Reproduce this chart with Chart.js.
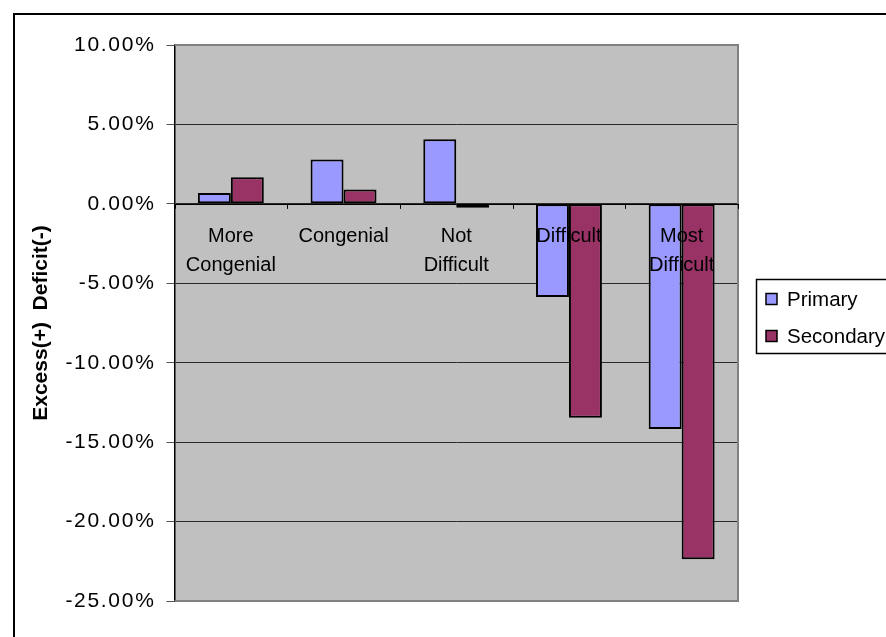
<!DOCTYPE html>
<html>
<head>
<meta charset="utf-8">
<title>Excess / Deficit</title>
<script src="https://cdn.jsdelivr.net/npm/chart.js@4.4.1/dist/chart.umd.min.js"></script>
<style>
  html, body { margin: 0; padding: 0; background: #fff; }
  #wrap { width: 886px; height: 637px; position: relative; }
</style>
</head>
<body>
<div id="wrap"><canvas id="gapChart" width="886" height="637"></canvas></div>
<script>
// categories and series (percent)
const categories = [['More', 'Congenial'], ['Congenial'], ['Not', 'Difficult'], ['Difficult'], ['Most', 'Difficult']];
const primary = [0.68, 2.80, 4.06, -5.87, -14.18];
const secondary = [1.67, 0.91, -0.25, -13.46, -22.37];
const seriesNames = ['Primary', 'Secondary'];
const yMin = -25, yMax = 10, yStep = 5;

const FONT = "'Liberation Sans', Arial, sans-serif";

// grey plot area, outer frame, category labels on the zero line, boxed legend
const excelLook = {
  id: 'excelLook',
  beforeDraw(chart) {
    const ctx = chart.ctx, a = chart.chartArea;
    ctx.save();
    ctx.letterSpacing = '0px';
    ctx.strokeStyle = '#000';
    ctx.lineWidth = 2;
    ctx.strokeRect(14, 14, 1000, 1000);
    ctx.fillStyle = '#c0c0c0';
    ctx.fillRect(a.left, a.top, a.right - a.left, a.bottom - a.top);
    ctx.restore();
    ctx.letterSpacing = '0px';
  },
  beforeDatasetsDraw(chart) {
    const ctx = chart.ctx, a = chart.chartArea;
    ctx.save();
    ctx.strokeStyle = '#808080';
    ctx.lineWidth = 2;
    ctx.beginPath();
    ctx.moveTo(a.left, a.top);
    ctx.lineTo(a.right, a.top);
    ctx.lineTo(a.right, a.bottom);
    ctx.lineTo(a.left, a.bottom);
    ctx.stroke();
    ctx.restore();
  },
  afterDatasetsDraw(chart) {
    const ctx = chart.ctx, a = chart.chartArea;
    const x = chart.scales.x, y = chart.scales.y;
    const zero = y.getPixelForValue(0);
    ctx.save();
    ctx.letterSpacing = '0px';
    // zero axis line and boundary tick marks
    ctx.strokeStyle = '#000';
    ctx.lineWidth = 1;
    ctx.beginPath();
    ctx.moveTo(a.left, Math.round(zero) + 0.5);
    ctx.lineTo(a.right, Math.round(zero) + 0.5);
    const n = chart.data.labels.length;
    for (let i = 0; i <= n; i++) {
      let bx;
      if (i === 0) bx = a.left;
      else if (i === n) bx = a.right;
      else bx = (x.getPixelForValue(i - 1) + x.getPixelForValue(i)) / 2;
      bx = Math.round(bx) + 0.5;
      ctx.moveTo(bx, zero);
      ctx.lineTo(bx, zero + 5);
    }
    ctx.stroke();
    // category labels
    ctx.fillStyle = '#000';
    ctx.font = '20px ' + FONT;
    ctx.textAlign = 'center';
    ctx.textBaseline = 'alphabetic';
    chart.data.labels.forEach((lines, i) => {
      const cx = x.getPixelForValue(i);
      lines.forEach((t, k) => ctx.fillText(t, cx, zero + 38 + k * 29));
    });
    ctx.restore();
    // wider spacing for the value axis numbers drawn next
    ctx.letterSpacing = '1.7px';
  },
  afterDraw(chart) {
    const ctx = chart.ctx;
    ctx.save();
    ctx.letterSpacing = '0px';
    ctx.strokeStyle = '#000';
    ctx.lineWidth = 1.5;
    ctx.fillStyle = '#fff';
    ctx.fillRect(756.5, 279.5, 300, 74);
    ctx.strokeRect(756.5, 279.5, 300, 74);
    ctx.font = '20.5px ' + FONT;
    ctx.textAlign = 'left';
    ctx.textBaseline = 'middle';
    chart.data.datasets.forEach((ds, i) => {
      const cy = 299 + i * 37;
      ctx.fillStyle = ds.backgroundColor;
      ctx.fillRect(766, cy - 5.5, 11, 11);
      ctx.lineWidth = 1.5;
      ctx.strokeRect(766, cy - 5.5, 11, 11);
      ctx.fillStyle = '#000';
      ctx.fillText(ds.label, 787, cy + 1);
    });
    ctx.restore();
  }
};

const ctx = document.getElementById('gapChart').getContext('2d');
new Chart(ctx, {
  type: 'bar',
  data: {
    labels: categories,
    datasets: [{
      label: seriesNames[0],
      data: primary,
      backgroundColor: '#9999ff',
      borderColor: '#000',
      borderWidth: 2,
      borderSkipped: false
    }, {
      label: seriesNames[1],
      data: secondary,
      backgroundColor: '#993366',
      borderColor: '#000',
      borderWidth: 2,
      borderSkipped: false
    }]
  },
  options: {
    responsive: false,
    animation: false,
    events: [],
    layout: { padding: { top: 45, right: 148, bottom: 36, left: 0 } },
    datasets: { bar: { categoryPercentage: 0.585, barPercentage: 1 } },
    plugins: {
      legend: { display: false },
      tooltip: { enabled: false }
    },
    scales: {
      x: { display: false },
      y: {
        min: yMin,
        max: yMax,
        afterFit(scale) { scale.width = 174.5; },
        ticks: {
          stepSize: yStep,
          z: 1,
          padding: 11,
          color: '#000',
          font: { family: FONT, size: 21 },
          callback: v => v.toFixed(2) + '%'
        },
        grid: { color: '#2a2a2a', lineWidth: 1, tickLength: 8, tickColor: '#555' },
        border: { display: true, color: '#000', width: 1.5 },
        title: {
          display: true,
          text: 'Excess(+)  Deficit(-)',
          color: '#000',
          font: { family: FONT, size: 21, weight: 'bold' },
          padding: { top: 29, bottom: 0 }
        }
      }
    }
  },
  plugins: [excelLook]
});
</script>
</body>
</html>
